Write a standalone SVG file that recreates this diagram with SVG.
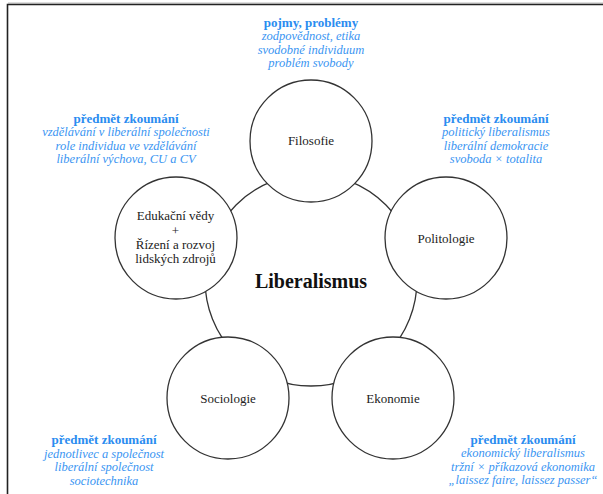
<svg xmlns="http://www.w3.org/2000/svg" width="603" height="494" viewBox="0 0 603 494">
<style>
.frame{stroke:#222;stroke-width:1.6;fill:none}
.c{fill:#fff;stroke:#333;stroke-width:1.3}
.big{fill:none;stroke:#333;stroke-width:1.3}
text{font-family:"Liberation Serif","Times New Roman","DejaVu Serif",serif;text-anchor:middle}
.n{font-size:13px;fill:#222}
.t{font-size:20px;font-weight:bold;fill:#111}
.h{font-size:13px;font-weight:bold;fill:#2a8cf0}
.i{font-size:12.5px;font-style:italic;fill:#3a95f2}
</style>
<rect width="603" height="494" fill="#fff"/>
<line x1="8" y1="3" x2="603" y2="3" stroke="#bbb" stroke-width="1"/>
<path class="frame" d="M7.5 494 V4.5 H603"/>
<g id="connectors">
<circle class="big" cx="311" cy="280" r="106"/>
</g>
<g id="center"><text class="t" x="311" y="288">Liberalismus</text></g>
<g id="filosofie">
<circle class="c" cx="311" cy="141" r="61"/>
<text class="n" x="311" y="145">Filosofie</text>
</g>
<g id="politologie">
<circle class="c" cx="446" cy="238" r="61"/>
<text class="n" x="446" y="243">Politologie</text>
</g>
<g id="edukace">
<circle class="c" cx="176" cy="238" r="61"/>
<text class="n" x="175.5" y="220">Edukační vědy</text>
<text class="n" x="175.5" y="235">+</text>
<text class="n" x="175.5" y="249">Řízení a rozvoj</text>
<text class="n" x="175.5" y="263">lidských zdrojů</text>
</g>
<g id="sociologie">
<circle class="c" cx="228" cy="398" r="61"/>
<text class="n" x="228" y="403">Sociologie</text>
</g>
<g id="ekonomie">
<circle class="c" cx="393" cy="398" r="61"/>
<text class="n" x="393" y="403">Ekonomie</text>
</g>
<g id="label-top">
<text class="h" x="311" y="27">pojmy, problémy</text>
<text class="i" x="311" y="40">zodpovědnost, etika</text>
<text class="i" x="311" y="53.5">svodobné individuum</text>
<text class="i" x="311" y="67">problém svobody</text>
</g>
<g id="label-tl">
<text class="h" x="126" y="122.5">předmět zkoumání</text>
<text class="i" x="126" y="136">vzdělávání v liberální společnosti</text>
<text class="i" x="126" y="149.5">role individua ve vzdělávání</text>
<text class="i" x="126" y="163">liberální výchova, CU a CV</text>
</g>
<g id="label-tr">
<text class="h" x="496" y="122.5">předmět zkoumání</text>
<text class="i" x="496" y="136">politický liberalismus</text>
<text class="i" x="496" y="149.5">liberální demokracie</text>
<text class="i" x="496" y="163">svoboda × totalita</text>
</g>
<g id="label-bl">
<text class="h" x="104" y="444">předmět zkoumání</text>
<text class="i" x="104" y="457.5">jednotlivec a společnost</text>
<text class="i" x="104" y="471">liberální společnost</text>
<text class="i" x="104" y="484.5">sociotechnika</text>
</g>
<g id="label-br">
<text class="h" x="523" y="443.5">předmět zkoumání</text>
<text class="i" x="523" y="457">ekonomický liberalismus</text>
<text class="i" x="523" y="470.5">tržní × příkazová ekonomika</text>
<text class="i" x="523" y="484">„laissez faire, laissez passer“</text>
</g>
</svg>
